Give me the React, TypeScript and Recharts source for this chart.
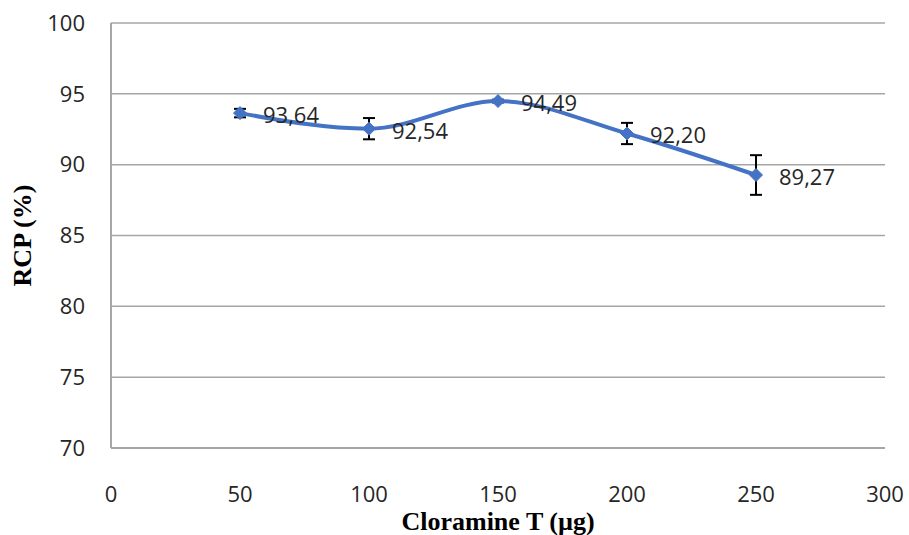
import React from 'react';
import { ComposedChart, Line, XAxis, YAxis, CartesianGrid, ErrorBar, LabelList } from 'recharts';

const doses = [50, 100, 150, 200, 250];
const rcp = [93.64, 92.54, 94.49, 92.2, 89.27];
const rcpError = [0.3, 0.75, 0.1, 0.75, 1.4];
const rcpLabels = ['93,64', '92,54', '94,49', '92,20', '89,27'];
const xTicks = [0, 50, 100, 150, 200, 250, 300];
const yTicks = [70, 75, 80, 85, 90, 95, 100];

const data = doses.map((d, i) => ({ dose: d, rcp: rcp[i], err: rcpError[i], label: rcpLabels[i] }));

const gridColor = '#a6a6a6';
const textColor = '#262626';
const blue = '#4472c4';

const Diamond = (props: any) => {
  const { cx, cy } = props;
  if (cx == null || cy == null) return null;
  const s = 6.5;
  return <polygon points={`${cx},${cy - s} ${cx + s},${cy} ${cx},${cy + s} ${cx - s},${cy}`} fill={blue} stroke={blue} />;
};

const ValueLabel = (props: any) => {
  const { x, y, value } = props;
  return (
    <text x={x + 23} y={y + 4} dominantBaseline="middle" fontSize={22} fill={textColor} fontFamily="'Open Sans', sans-serif">
      {value}
    </text>
  );
};

const App: React.FC = () => {
  return (
    <div style={{ position: 'absolute', left: 0, top: 0, width: 909, height: 535, background: '#fff' }}>
      <ComposedChart width={909} height={535} data={data} margin={{ top: 23, right: 24, bottom: 0, left: 0 }}>
        <CartesianGrid vertical={false} stroke={gridColor} strokeWidth={1.5} />
        <XAxis
          type="number"
          dataKey="dose"
          domain={[0, 300]}
          ticks={xTicks}
          height={87}
          tickSize={0}
          tickMargin={38}
          axisLine={{ stroke: gridColor, strokeWidth: 2 }}
          tick={{ fill: textColor, fontSize: 22, fontFamily: "'Open Sans', sans-serif" }}
          label={{
            content: (p: any) => (
              <text
                x={p.viewBox.x + p.viewBox.width / 2}
                y={p.viewBox.y + 76}
                textAnchor="middle"
                dominantBaseline="middle"
                fontSize={26}
                fontWeight="bold"
                fill="#000"
                fontFamily="'Liberation Serif', serif"
              >
                Cloramine T (µg)
              </text>
            ),
          }}
        />
        <YAxis
          type="number"
          domain={[70, 100]}
          ticks={yTicks}
          width={111}
          tickSize={0}
          tickMargin={26}
          axisLine={{ stroke: gridColor, strokeWidth: 2 }}
          tick={{ fill: textColor, fontSize: 22, fontFamily: "'Open Sans', sans-serif" }}
          label={{
            content: (p: any) => {
              const cx = 25;
              const cy = p.viewBox.y + p.viewBox.height / 2;
              return (
                <text
                  x={cx}
                  y={cy}
                  transform={`rotate(-90, ${cx}, ${cy})`}
                  textAnchor="middle"
                  dominantBaseline="middle"
                  fontSize={26}
                  fontWeight="bold"
                  fill="#000"
                  fontFamily="'Liberation Serif', serif"
                >
                  RCP (%)
                </text>
              );
            },
          }}
        />
        <Line
          type="monotone"
          dataKey="rcp"
          stroke={blue}
          strokeWidth={4}
          dot={<Diamond />}
          activeDot={false}
          isAnimationActive={false}
        >
          <ErrorBar dataKey="err" direction="y" width={6} stroke="#000" strokeWidth={2} />
          <LabelList dataKey="label" content={<ValueLabel />} />
        </Line>
      </ComposedChart>
    </div>
  );
};

export default App;
